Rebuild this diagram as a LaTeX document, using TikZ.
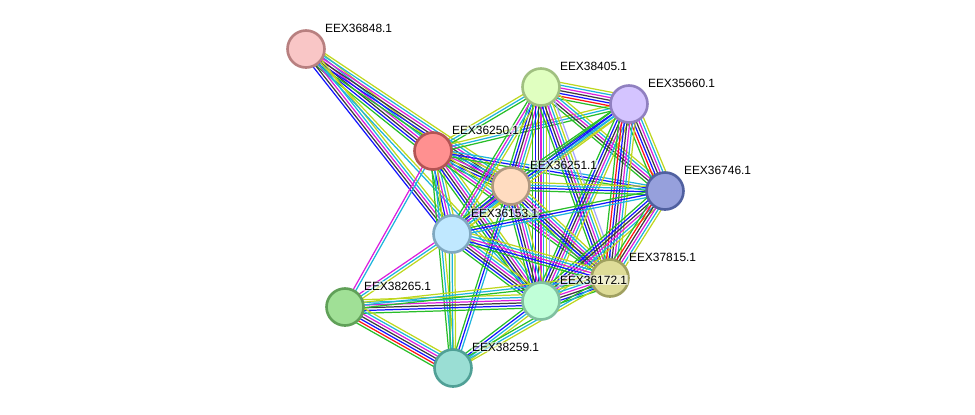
\documentclass[tikz,border=0pt]{standalone}
\usepackage{fontspec}
\setmainfont{Liberation Sans}
\usetikzlibrary{calc, backgrounds}
% node colours (fill / border)
\definecolor{c36848}{RGB}{249,198,198}\definecolor{d36848}{RGB}{184,128,128}
\definecolor{c36250}{RGB}{255,144,144}\definecolor{d36250}{RGB}{180,84,84}
\definecolor{c38405}{RGB}{224,255,192}\definecolor{d38405}{RGB}{160,192,128}
\definecolor{c35660}{RGB}{212,196,255}\definecolor{d35660}{RGB}{144,128,192}
\definecolor{c36251}{RGB}{255,220,192}\definecolor{d36251}{RGB}{176,152,128}
\definecolor{c36746}{RGB}{150,160,220}\definecolor{d36746}{RGB}{80,96,160}
\definecolor{c36153}{RGB}{192,232,255}\definecolor{d36153}{RGB}{128,168,192}
\definecolor{c37815}{RGB}{222,220,152}\definecolor{d37815}{RGB}{160,160,96}
\definecolor{c38265}{RGB}{160,224,150}\definecolor{d38265}{RGB}{96,160,88}
\definecolor{c36172}{RGB}{192,255,216}\definecolor{d36172}{RGB}{128,192,160}
\definecolor{c38259}{RGB}{154,222,212}\definecolor{d38259}{RGB}{80,160,150}
% evidence colours
\definecolor{egreen}{RGB}{40,190,40}
\definecolor{ered}{RGB}{255,20,20}
\definecolor{eblue}{RGB}{20,20,255}
\definecolor{eblack}{RGB}{60,60,60}
\definecolor{emag}{RGB}{220,30,220}
\definecolor{ecyan}{RGB}{30,180,220}
\definecolor{eyel}{RGB}{190,215,30}
\definecolor{elav}{RGB}{165,165,255}

% one edge = a bundle of parallel coloured lines
\newcommand{\bundle}[3]{%
  \foreach \c [count=\n] in {#3} {\xdef\nlines{\n}}
  \foreach \c [count=\i] in {#3} {
    \pgfmathsetmacro\off{(\i-(\nlines+1)/2)*1.55}
    \draw[edge, draw=\c] ($(#1)!\off pt!90:(#2)$) -- ($(#2)!\off pt!-90:(#1)$);
  }}

\begin{document}
\begin{tikzpicture}[
    x=0.02cm, y=-0.02cm,
    prot/.style={circle, line width=1.5pt, minimum size=0.74cm, inner sep=0pt},
    lbl/.style={anchor=west, font=\fontsize{6.8}{8}\selectfont, fill=white, fill opacity=0.55, text opacity=1, inner sep=0.4pt},
    edge/.style={line width=0.7pt},
]
    \useasboundingbox (0,0) rectangle (975,414);

    % proteins
    \foreach \id/\x/\y in {36848/306/49, 36250/433/151, 38405/541/87, 35660/629/104,
                           36251/511/186, 36746/665/191, 36153/452/234, 37815/610/278,
                           38265/345/307, 36172/541/301, 38259/453/368} {
        \node[prot, fill=c\id, draw=d\id] (n\id) at (\x,\y) {};
        \node[lbl] (l\id) at ($(n\id)+(18,-21)$) {EEX\id.1};
    }

    % interactions
    \begin{pgfonlayer}{background}
    \bundle{n36848}{n36250}{egreen,eblue,eblack,emag,ecyan,eyel}
    \bundle{n36848}{n36251}{egreen,eblue,eblack,emag,ecyan,eyel}
    \bundle{n36848}{n36153}{eblue,eblack,emag,ecyan,eyel}
    \bundle{n36848}{n36172}{ecyan,eyel}
    \bundle{n36250}{n38405}{egreen,ecyan,eyel}
    \bundle{n36250}{n35660}{egreen,ecyan,eyel}
    \bundle{n36250}{n36251}{egreen,eblue,eblack,emag,ecyan,eyel}
    \bundle{n36250}{n36746}{egreen,eblue,ecyan}
    \bundle{n36250}{n36153}{egreen,eblue,emag,ecyan,eyel}
    \bundle{n36250}{n36172}{egreen,eblue,eblack,emag,ecyan,eyel}
    \bundle{n36250}{n37815}{egreen,emag,ecyan,eyel}
    \bundle{n36250}{n38259}{egreen,ecyan,eyel}
    \bundle{n36250}{n38265}{emag,ecyan}
    \bundle{n38405}{n35660}{egreen,ered,eblue,eblack,emag,ecyan,eyel}
    \bundle{n38405}{n36251}{egreen,eblue,eblack,emag,ecyan,eyel}
    \bundle{n38405}{n36746}{egreen,eblack,emag,ecyan,eyel}
    \bundle{n38405}{n36153}{egreen,emag,ecyan,eyel}
    \bundle{n38405}{n36172}{egreen,eblue,eblack,emag,ecyan,eyel,elav}
    \bundle{n38405}{n37815}{egreen,eblue,eblack,emag,ecyan,eyel,elav}
    \bundle{n35660}{n36251}{egreen,eblue,ecyan,eyel}
    \bundle{n35660}{n36746}{egreen,ered,eblue,eblack,emag,ecyan,eyel}
    \bundle{n35660}{n36153}{egreen,eblue,ecyan,eyel}
    \bundle{n35660}{n36172}{egreen,eblue,eblack,emag,ecyan,eyel}
    \bundle{n35660}{n37815}{egreen,ered,eblue,eblack,emag,ecyan,eyel}
    \bundle{n36251}{n36746}{egreen,eblue,ecyan,eyel}
    \bundle{n36251}{n36153}{egreen,eblue,emag,ecyan,eyel}
    \bundle{n36251}{n36172}{egreen,eblue,eblack,emag,ecyan,eyel}
    \bundle{n36251}{n37815}{egreen,eblue,eblack,emag,ecyan,eyel}
    \bundle{n36251}{n38259}{egreen,eblue,ecyan}
    \bundle{n36746}{n36153}{egreen,eblue,ecyan}
    \bundle{n36746}{n36172}{egreen,eblue,eblack,emag,ecyan,eyel}
    \bundle{n36746}{n37815}{egreen,ered,eblack,emag,ecyan,eyel}
    \bundle{n36153}{n36172}{egreen,eblue,eblack,emag,ecyan,eyel}
    \bundle{n36153}{n37815}{egreen,eblue,emag,ecyan,eyel}
    \bundle{n36153}{n38259}{egreen,ecyan,eyel}
    \bundle{n36153}{n38265}{emag,ecyan,eyel}
    \bundle{n38265}{n36172}{egreen,eblue,eblack,emag,ecyan,eyel}
    \bundle{n38265}{n37815}{egreen,ecyan,eyel}
    \bundle{n38265}{n38259}{egreen,ered,eblue,eblack,emag,ecyan,eyel}
    \bundle{n36172}{n37815}{egreen,eblue,eblack,emag,ecyan,eyel,elav}
    \bundle{n36172}{n38259}{egreen,eblue,ecyan,eyel}
    \bundle{n37815}{n38259}{egreen,ecyan,eyel}
    \end{pgfonlayer}
\end{tikzpicture}
\end{document}
